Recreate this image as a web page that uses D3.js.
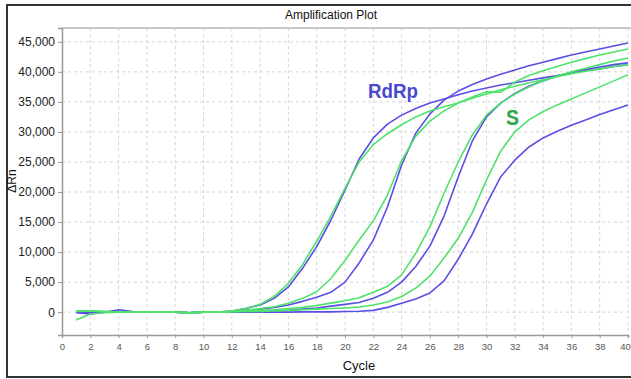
<!DOCTYPE html>
<html>
<head>
<meta charset="utf-8">
<script src="https://cdn.jsdelivr.net/npm/d3@7"></script>
<style>
  body { margin: 0; background: #fff; }
  svg { display: block; font-family: "Liberation Sans", Arial, sans-serif; }
</style>
</head>
<body>
<svg id="chart" width="631" height="379"></svg>
<script>
// cycles 1..40
const cycles = [1,2,3,4,5,6,7,8,9,10,11,12,13,14,15,16,17,18,19,20,
                21,22,23,24,25,26,27,28,29,30,31,32,33,34,35,36,37,38,39,40];

// RdRp (blue) curves, ΔRn per cycle
const rdrp1 = [-100,-300,0,400,100,0,0,0,-100,0,0,200,600,1200,2300,4200,7300,10900,15300,20300,
               25500,29000,31300,32800,33900,34800,35500,36200,36800,37300,37800,38200,38600,39000,39400,39800,40200,40500,40900,41200];
const rdrp2 = [0,0,0,100,0,0,0,0,-100,0,0,100,300,500,800,1200,1800,2500,3300,5000,
               8200,12000,17500,24500,29800,33000,35300,36800,37900,38800,39600,40300,41000,41600,42200,42800,43300,43800,44300,44800];
const rdrp3 = [0,0,0,0,0,0,0,0,-100,0,0,50,100,150,200,300,500,700,1000,1300,
               1600,2300,3300,5000,7600,11000,16000,22500,28500,32500,34800,36400,37600,38500,39300,39900,40400,40800,41200,41500];
const rdrp4 = [0,0,0,0,0,0,0,0,-100,0,0,0,0,0,0,0,50,50,50,100,
               150,300,800,1500,2200,3200,5200,8800,13000,18000,22500,25300,27500,29000,30100,31100,32000,32900,33700,34500];

// S (green) curves
const s1 = [-1300,-300,-100,0,0,0,0,0,-100,0,0,200,650,1300,2600,4800,7900,11800,16000,20600,
            25000,27900,29700,31200,32500,33500,34200,34800,35800,36700,36600,38300,39400,40200,40900,41600,42200,42800,43300,43800];
const s2 = [200,200,100,0,0,0,0,0,-100,0,0,150,300,600,900,1500,2300,3400,5600,8600,
            12000,15200,19500,25200,29300,31800,33500,34800,35600,36300,37000,37600,38200,38700,39200,39700,40100,40500,40900,41200];
const s3 = [200,200,100,0,0,0,0,0,-100,0,0,100,200,300,400,600,800,1100,1500,1900,
            2400,3300,4300,6200,9800,14200,19800,25000,29500,32800,34800,36300,37500,38500,39300,40000,40600,41200,41800,42300];
const s4 = [100,200,100,0,0,0,0,0,-100,0,0,50,100,100,200,300,400,500,600,700,
            850,1200,1700,2600,4000,6000,9000,12300,16600,22000,26800,30000,32000,33400,34500,35500,36500,37500,38500,39500];

const xTicks = [0,2,4,6,8,10,12,14,16,18,20,22,24,26,28,30,32,34,36,38,40];
const yTicks = [0,5000,10000,15000,20000,25000,30000,35000,40000,45000];

const blue = "#5a4ee6";
const green = "#4ee26a";

const svg = d3.select("#chart");
const W = 631, H = 379;
const plot = { left: 62, right: 628, top: 28, bottom: 335 };

// outer frame
svg.append("rect")
    .attr("x", 7).attr("y", 5)
    .attr("width", 640).attr("height", 372)
    .attr("fill", "none")
    .attr("stroke", "#333")
    .attr("stroke-width", 2);

svg.append("text")
    .attr("x", 331).attr("y", 19)
    .attr("text-anchor", "middle")
    .attr("font-size", "12px")
    .attr("fill", "#111")
    .text("Amplification Plot");

const x = d3.scaleLinear().domain([0, 40]).range([plot.left, plot.right]);
const y = d3.scaleLinear().domain([-3800, 47300]).range([plot.bottom, plot.top]);

// grid
const grid = svg.append("g");
grid.selectAll("line.v")
    .data(xTicks.slice(1))
    .enter().append("line")
    .attr("x1", d => x(d)).attr("x2", d => x(d))
    .attr("y1", plot.top).attr("y2", plot.bottom)
    .attr("stroke", "#d4d4d4")
    .attr("stroke-dasharray", "3,3");
grid.selectAll("line.h")
    .data(yTicks)
    .enter().append("line")
    .attr("x1", plot.left).attr("x2", plot.right)
    .attr("y1", d => y(d)).attr("y2", d => y(d))
    .attr("stroke", "#d4d4d4")
    .attr("stroke-dasharray", "3,3");

// plot top border
svg.append("line")
    .attr("x1", plot.left).attr("x2", W)
    .attr("y1", plot.top).attr("y2", plot.top)
    .attr("stroke", "#c8c8c8").attr("stroke-width", 2);

// axes
const xAxis = svg.append("g")
    .attr("transform", `translate(0,${plot.bottom})`)
    .call(d3.axisBottom(x).tickValues(xTicks).tickSize(3).tickFormat(d3.format("d")));
xAxis.select(".domain").attr("stroke", "#999").attr("stroke-width", 1.5);
xAxis.selectAll(".tick line").attr("stroke", "#999");
xAxis.selectAll("text").attr("font-size", "9.5px").attr("fill", "#555").attr("dy", "0.9em")
    .attr("font-family", "Liberation Sans, Arial, sans-serif");
// last label sits at the right edge, keep it inside the picture
xAxis.selectAll(".tick text").filter(d => d === 40).attr("dx", "-3");

const yAxis = svg.append("g")
    .attr("transform", `translate(${plot.left},0)`)
    .call(d3.axisLeft(y).tickValues(yTicks).tickSize(4).tickFormat(d3.format(",")));
yAxis.select(".domain").attr("stroke", "#999").attr("stroke-width", 1.5);
yAxis.selectAll(".tick line").attr("stroke", "#999");
yAxis.selectAll("text").attr("font-size", "12px").attr("fill", "#222")
    .attr("font-family", "Liberation Sans, Arial, sans-serif");

svg.append("text")
    .attr("x", 359).attr("y", 370)
    .attr("text-anchor", "middle")
    .attr("font-size", "13px")
    .attr("fill", "#111")
    .text("Cycle");

svg.append("text")
    .attr("transform", "translate(16,181) rotate(-90)")
    .attr("text-anchor", "middle")
    .attr("font-size", "12px")
    .attr("fill", "#111")
    .text("ΔRn");

// curves
const line = d3.line()
    .x((d, i) => x(cycles[i]))
    .y(d => y(d));

const series = [
    { values: rdrp1, color: blue },
    { values: rdrp2, color: blue },
    { values: rdrp3, color: blue },
    { values: rdrp4, color: blue },
    { values: s1, color: green },
    { values: s2, color: green },
    { values: s3, color: green },
    { values: s4, color: green }
];

svg.append("g")
    .selectAll("path")
    .data(series)
    .enter().append("path")
    .attr("d", d => line(d.values))
    .attr("fill", "none")
    .attr("stroke", d => d.color)
    .attr("stroke-width", 1.6)
    .attr("stroke-linejoin", "round");

// labels
svg.append("text")
    .attr("x", 368).attr("y", 98)
    .attr("font-size", "21px")
    .attr("font-weight", "bold")
    .attr("fill", "#4a48d0")
    .attr("textLength", 50)
    .attr("lengthAdjust", "spacingAndGlyphs")
    .text("RdRp");

svg.append("text")
    .attr("x", 506).attr("y", 125)
    .attr("font-size", "22px")
    .attr("font-weight", "bold")
    .attr("fill", "#2aa84a")
    .attr("textLength", 13)
    .attr("lengthAdjust", "spacingAndGlyphs")
    .text("S");
</script>
</body>
</html>
